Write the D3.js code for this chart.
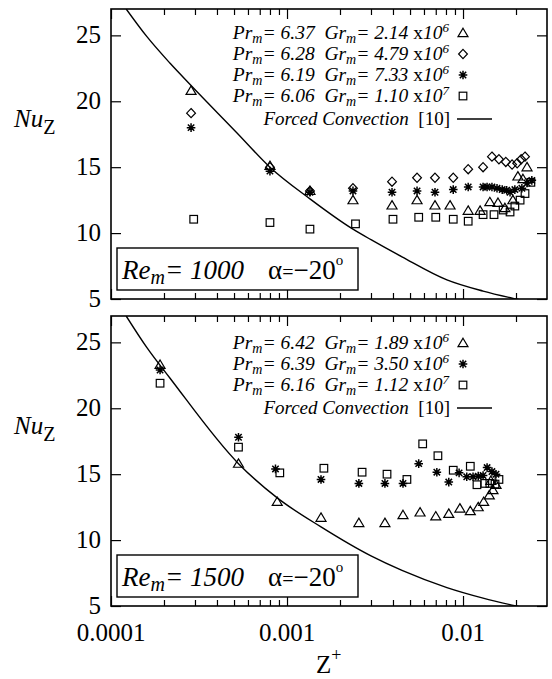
<!DOCTYPE html>
<html>
<head>
<meta charset="utf-8">
<script src="https://cdn.jsdelivr.net/npm/d3@7"></script>
<style>
  body { margin: 0; background: #fff; }
  svg text { font-family: "Liberation Serif", "DejaVu Serif", serif; fill: #000; }
</style>
</head>
<body>
<div id="grafico"></div>
<script>
// tick values
const zMajor = [0.0001, 0.001, 0.01];
const zMinor = [0.0002, 0.0003, 0.0004, 0.0005, 0.0006, 0.0007, 0.0008, 0.0009,
                0.002, 0.003, 0.004, 0.005, 0.006, 0.007, 0.008, 0.009, 0.02];
const zLabels = ["0.0001", "0.001", "0.01"];
const nuTicks = [5, 10, 15, 20, 25];

// forced convection curve [10]
const forced1000 = [[0.000122, 27.0], [0.00016, 24.9], [0.000216, 22.9], [0.000285, 21.2], [0.00052, 17.6],
                    [0.0008, 15.0], [0.00135, 12.6], [0.00237, 10.3], [0.003, 9.5], [0.0045, 8.2],
                    [0.0081, 6.45], [0.013, 5.6], [0.02, 5.0], [0.03, 4.5]];
const forced1500 = [[0.000122, 27.0], [0.00016, 24.6], [0.000216, 22.3], [0.00053, 15.8], [0.00088, 13.2],
                    [0.00156, 11.0], [0.003, 8.8], [0.0045, 7.7], [0.0081, 6.4], [0.013, 5.6],
                    [0.02, 5.0], [0.03, 4.5]];

// Re_m = 1000
const tri1000 = [[0.000285, 20.8], [0.0008, 15.1], [0.00135, 13.2], [0.00237, 12.5], [0.00395, 12.1],
                 [0.00548, 12.5], [0.00693, 12.1], [0.00844, 12.1], [0.0107, 11.7], [0.0125, 11.7],
                 [0.0142, 12.35], [0.0158, 12.3], [0.0173, 11.9], [0.0192, 12.5], [0.0205, 14.3],
                 [0.0219, 14.1], [0.0231, 15.0]];
const dia1000 = [[0.000285, 19.1], [0.0008, 15.0], [0.00135, 13.2], [0.00237, 13.4], [0.00395, 13.9],
                 [0.00548, 14.2], [0.00693, 14.2], [0.0088, 14.2], [0.0107, 14.85], [0.013, 15.0],
                 [0.0146, 15.8], [0.016, 15.6], [0.0175, 15.4], [0.019, 15.2], [0.0203, 15.3],
                 [0.0214, 15.6], [0.0225, 15.8]];
const ast1000 = [[0.000285, 18.0], [0.0008, 14.7], [0.00135, 13.1], [0.00237, 13.2], [0.00395, 13.1],
                 [0.00548, 13.2], [0.00693, 13.1], [0.0088, 13.3], [0.0107, 13.5], [0.013, 13.5],
                 [0.0137, 13.5], [0.0146, 13.5], [0.0156, 13.4], [0.0167, 13.3], [0.0177, 13.25],
                 [0.0185, 13.1], [0.0197, 13.3], [0.0216, 13.4], [0.0231, 13.8], [0.0246, 14.0]];
const sq1000 = [[0.000295, 11.05], [0.0008, 10.8], [0.00135, 10.3], [0.00245, 10.7], [0.004, 11.05],
                [0.0056, 11.2], [0.007, 11.2], [0.0088, 11.05], [0.0107, 10.9], [0.013, 11.4],
                [0.015, 11.4], [0.0169, 11.75], [0.0185, 11.6], [0.0197, 12.05], [0.0211, 12.5],
                [0.0225, 13.0], [0.0243, 13.85]];

// Re_m = 1500
const tri1500 = [[0.00019, 23.3], [0.00053, 15.8], [0.00088, 12.9], [0.00156, 11.7], [0.00256, 11.3],
                 [0.0036, 11.3], [0.00456, 11.9], [0.0057, 12.1], [0.007, 11.8], [0.0083, 12.0],
                 [0.0096, 12.4], [0.011, 12.2], [0.0122, 12.5], [0.0131, 12.9], [0.0141, 13.4],
                 [0.0148, 13.8], [0.0154, 14.2], [0.0144, 14.5]];
const ast1500 = [[0.00019, 22.9], [0.00053, 17.8], [0.00086, 15.4], [0.00156, 14.6], [0.00256, 14.3],
                 [0.0036, 14.3], [0.00456, 14.3], [0.0056, 15.8], [0.0071, 15.15], [0.0083, 14.4],
                 [0.0095, 15.1], [0.0105, 14.8], [0.0114, 14.8], [0.0122, 14.85], [0.013, 14.9],
                 [0.0137, 15.5], [0.0146, 15.2], [0.0154, 15.0]];
const sq1500 = [[0.00019, 21.9], [0.00053, 17.05], [0.00091, 15.1], [0.00162, 15.45], [0.00267, 15.15],
                [0.0037, 15.0], [0.0048, 14.6], [0.0059, 17.3], [0.0072, 16.4], [0.0088, 15.3],
                [0.011, 15.6], [0.012, 14.2], [0.0133, 14.3], [0.0142, 14.3], [0.0152, 14.25],
                [0.016, 14.6]];

// legend texts
const legend1000 = [["6.37", "2.14", "6", "tri"], ["6.28", "4.79", "6", "dia"],
                    ["6.19", "7.33", "6", "ast"], ["6.06", "1.10", "7", "sq"]];
const legend1500 = [["6.42", "1.89", "6", "tri"], ["6.39", "3.50", "6", "ast"],
                    ["6.16", "1.12", "7", "sq"]];

const W = 552, H = 679;
const left = 111, right = 547;
const NB = "\u00a0";

const svg = d3.select("#grafico").append("svg")
    .attr("width", W).attr("height", H)
    .attr("font-family", "Liberation Serif, DejaVu Serif, serif");

const x = d3.scaleLog().domain([0.0001, 0.03]).range([left, right]);

function marker(g, type, cx, cy) {
    const s = g.append("g").attr("transform", `translate(${cx},${cy})`)
        .attr("fill", "none").attr("stroke", "#000").attr("stroke-width", 1.2);
    if (type === "tri") {
        s.append("path").attr("d", "M0,-4.8L5,3.6L-5,3.6Z");
    } else if (type === "dia") {
        s.append("path").attr("d", "M0,-4.6L4.4,0L0,4.6L-4.4,0Z");
    } else if (type === "sq") {
        s.append("rect").attr("x", -3.8).attr("y", -3.8).attr("width", 7.6).attr("height", 7.6);
    } else {
        s.attr("stroke-width", 1.5);
        s.append("path").attr("d", "M-4.3,0H4.3M0,-4.3V4.3M-3.2,-3.2L3.2,3.2M-3.2,3.2L3.2,-3.2");
    }
}

function panel(top, bottom, series, forced, legend, legendBase, reText, nuBase) {
    const y = d3.scaleLinear().domain([5, 27]).range([bottom, top]);
    const g = svg.append("g");

    const clipId = "clip" + top;
    g.append("clipPath").attr("id", clipId).append("rect")
        .attr("x", left).attr("y", top).attr("width", right - left).attr("height", bottom - top);

    // axes with inward ticks
    g.append("g").attr("transform", `translate(0,${bottom})`)
        .call(d3.axisBottom(x).tickValues(zMajor).tickSize(-10).tickFormat(""));
    g.append("g").attr("transform", `translate(0,${bottom})`)
        .call(d3.axisBottom(x).tickValues(zMinor).tickSize(-6).tickFormat(""));
    g.append("g").attr("transform", `translate(0,${top})`)
        .call(d3.axisTop(x).tickValues(zMajor).tickSize(-10).tickFormat(""));
    g.append("g").attr("transform", `translate(0,${top})`)
        .call(d3.axisTop(x).tickValues(zMinor).tickSize(-6).tickFormat(""));
    g.append("g").attr("transform", `translate(${left},0)`)
        .call(d3.axisLeft(y).tickValues(nuTicks).tickSize(-10).tickFormat(""));
    g.append("g").attr("transform", `translate(${right},0)`)
        .call(d3.axisRight(y).tickValues(nuTicks).tickSize(-10).tickFormat(""));
    g.selectAll(".domain").remove();
    g.selectAll(".tick line").attr("stroke", "#000").attr("stroke-width", 1.2);

    g.append("rect").attr("x", left).attr("y", top)
        .attr("width", right - left).attr("height", bottom - top)
        .attr("fill", "none").attr("stroke", "#000").attr("stroke-width", 1.6);

    // y tick labels
    g.selectAll(".ylab").data(nuTicks).enter().append("text")
        .attr("x", 101).attr("y", d => y(d) + 8)
        .attr("text-anchor", "end").attr("font-size", 25)
        .text(d => d);

    // Nu_Z label
    const nu = g.append("text").attr("x", 14).attr("y", nuBase).attr("font-size", 25);
    nu.append("tspan").attr("font-style", "italic").text("Nu");
    nu.append("tspan").attr("dy", 7).attr("font-size", 20).text("Z");

    // forced convection curve
    const line = d3.line().x(d => x(d[0])).y(d => y(d[1])).curve(d3.curveMonotoneX);
    g.append("path").datum(forced).attr("d", line)
        .attr("clip-path", `url(#${clipId})`)
        .attr("fill", "none").attr("stroke", "#000").attr("stroke-width", 1.4);

    // data points
    series.forEach(([type, pts]) => {
        pts.forEach(p => marker(g, type, x(p[0]), y(p[1])));
    });

    // legend
    legend.forEach((row, i) => {
        const by = legendBase + i * 21;
        const t = g.append("text").attr("x", 449).attr("y", by)
            .attr("text-anchor", "end").attr("font-size", 19.5).attr("font-style", "italic");
        t.append("tspan").text("Pr");
        t.append("tspan").attr("dy", 4).attr("font-size", 14).text("m");
        t.append("tspan").attr("dy", -4).text("=" + NB + row[0] + NB + NB + "Gr");
        t.append("tspan").attr("dy", 4).attr("font-size", 14).text("m");
        t.append("tspan").attr("dy", -4).text("=" + NB + row[1]);
        t.append("tspan").attr("font-style", "normal").text(NB + "x");
        t.append("tspan").text("10");
        t.append("tspan").attr("dy", -7).attr("font-size", 13).text(row[2]);
        marker(g, row[3], 463, by - 6);
    });
    const fy = legendBase + legend.length * 21 + 2;
    const ft = g.append("text").attr("x", 450).attr("y", fy)
        .attr("text-anchor", "end").attr("font-size", 19);
    ft.append("tspan").attr("font-style", "italic").text("Forced Convection");
    ft.append("tspan").text(NB + NB + "[10]");
    g.append("line").attr("x1", 457).attr("x2", 492).attr("y1", fy - 6).attr("y2", fy - 6)
        .attr("stroke", "#000").attr("stroke-width", 1.3);

    // Re box
    const bx = 117, bw = 241, bh = 42, byTop = bottom - 51;
    g.append("rect").attr("x", bx).attr("y", byTop).attr("width", bw).attr("height", bh)
        .attr("fill", "#fff").attr("stroke", "#000").attr("stroke-width", 1.4);
    const rt = g.append("text").attr("x", 122).attr("y", byTop + 31).attr("font-size", 27)
        .attr("font-style", "italic");
    rt.append("tspan").text("Re");
    rt.append("tspan").attr("dy", 5).attr("font-size", 20).text("m");
    rt.append("tspan").attr("dy", -5).text("=" + NB + reText);
    const at = g.append("text").attr("x", 268).attr("y", byTop + 31).attr("font-size", 27);
    at.append("tspan").text("α");
    at.append("tspan").attr("font-size", 20).text("=");
    at.append("tspan").text("−20");
    at.append("tspan").attr("dy", -14).attr("font-size", 15).text("o");
}

panel(9, 299,
      [["tri", tri1000], ["dia", dia1000], ["ast", ast1000], ["sq", sq1000]],
      forced1000, legend1000, 39, "1000", 127);
panel(316, 606,
      [["tri", tri1500], ["ast", ast1500], ["sq", sq1500]],
      forced1500, legend1500, 349, "1500", 434);

// x tick labels
svg.selectAll(".xlab").data(zMajor).enter().append("text")
    .attr("x", d => x(d)).attr("y", 641)
    .attr("text-anchor", "middle").attr("font-size", 25)
    .text((d, i) => zLabels[i]);

// x axis title
const zt = svg.append("text").attr("x", 316).attr("y", 673).attr("font-size", 25);
zt.append("tspan").text("Z");
zt.append("tspan").attr("dy", -12).attr("font-size", 18).text("+");
</script>
</body>
</html>
